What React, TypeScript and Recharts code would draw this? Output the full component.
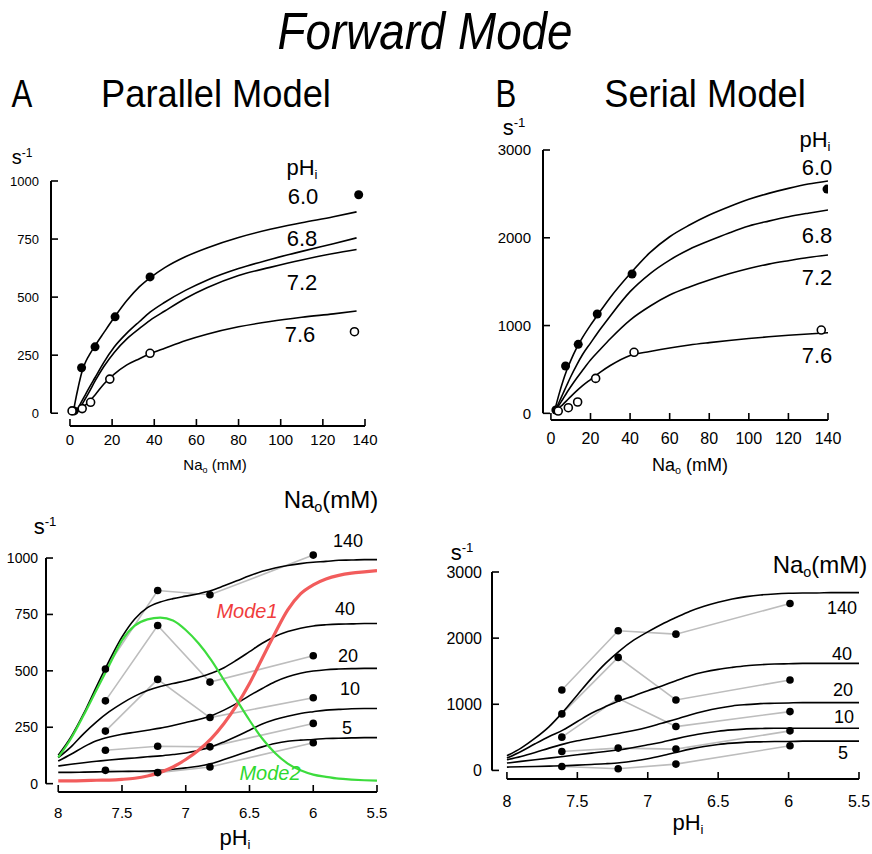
import { ComposedChart, Line, XAxis, YAxis, ReferenceLine } from 'recharts';

const FONT = '"Liberation Sans", Arial, Helvetica, sans-serif';

// ---- Panel A: parallel model, turnover vs Na_o ----
const NA_A = [1.5, 2.5, 4, 5.5, 7, 9, 12, 16, 21, 27, 33, 38, 45, 55, 65, 80, 95, 110, 125, 136];
const A_FIT_60 = [0, 50, 115, 172, 212, 248, 292, 346, 412, 485, 545, 583, 627, 675, 712, 757, 792, 820, 846, 867];
const A_FIT_68 = [0, 5, 25, 50, 75, 108, 155, 218, 285, 345, 395, 435, 478, 530, 573, 623, 662, 697, 730, 755];
const A_FIT_72 = [0, 3, 15, 35, 58, 90, 140, 200, 262, 320, 365, 400, 440, 495, 540, 593, 628, 660, 688, 705];
const A_FIT_76 = [0, 3, 10, 20, 32, 50, 80, 125, 168, 208, 235, 256, 280, 313, 340, 372, 395, 413, 428, 440];
const A_FILLED_X = [2, 5.5, 11.9, 21.4, 38, 137];
const A_FILLED_Y = [10, 196, 286, 415, 587, 941];
const A_OPEN_X = [1, 5.8, 9.8, 18.9, 38, 135];
const A_OPEN_Y = [10, 20, 47, 147, 258, 351];

// ---- Panel B: serial model, turnover vs Na_o ----
const NA_B = [2, 4, 6, 8, 10, 13, 16, 20, 25, 30, 40, 50, 60, 70, 80, 90, 100, 110, 120, 130, 140];
const B_FIT_60 = [40, 210, 360, 490, 600, 745, 865, 1005, 1165, 1320, 1590, 1830, 2012, 2145, 2259, 2354, 2438, 2506, 2563, 2612, 2647];
const B_FIT_68 = [20, 120, 220, 320, 417, 550, 670, 800, 960, 1110, 1386, 1590, 1746, 1870, 1966, 2055, 2134, 2190, 2240, 2280, 2316];
const B_FIT_72 = [15, 90, 160, 235, 303, 400, 490, 607, 730, 850, 1063, 1220, 1348, 1440, 1519, 1590, 1651, 1700, 1739, 1775, 1803];
const B_FIT_76 = [10, 60, 100, 145, 190, 255, 315, 385, 470, 545, 660, 705, 745, 778, 805, 830, 852, 872, 889, 904, 918];
const B_FILLED_X = [2.5, 7.4, 13.8, 23.4, 41, 139.5];
const B_FILLED_Y = [38, 539, 786, 1131, 1587, 2555];
const B_OPEN_X = [3.7, 8.8, 13.5, 22.6, 42, 136.6];
const B_OPEN_Y = [26, 64, 129, 398, 695, 949];

// ---- Panels C/D: turnover vs pH_i ----
const PH = [8.0, 7.9, 7.8, 7.7, 7.6, 7.5, 7.4, 7.3, 7.2, 7.1, 7.0, 6.9, 6.8, 6.7, 6.6, 6.5, 6.4, 6.3, 6.2, 6.1, 6.0, 5.9, 5.8, 5.7, 5.6, 5.5];

const C_FIT_140 = [126, 207, 311, 430, 545, 650, 730, 780, 805, 820, 831, 842, 856, 877, 899, 921, 941, 956, 967, 975, 981, 985, 990, 991, 993, 993];
const C_FIT_40 = [115, 163, 222, 274, 319, 356, 388, 413, 431, 444, 456, 471, 489, 514, 548, 585, 622, 652, 674, 689, 699, 704, 707, 708, 710, 710];
const C_FIT_20 = [100, 130, 163, 190, 207, 219, 228, 237, 246, 258, 271, 284, 301, 326, 356, 390, 422, 452, 474, 489, 499, 505, 508, 510, 511, 511];
const C_FIT_10 = [78, 86, 93, 99, 105, 110, 114, 119, 123, 129, 136, 148, 163, 185, 210, 237, 264, 284, 299, 311, 319, 326, 329, 332, 333, 333];
const C_FIT_5 = [50, 50, 51, 52, 53, 54, 55, 56, 59, 64, 70, 77, 89, 107, 126, 145, 163, 178, 188, 193, 196, 200, 201, 203, 204, 204];
const C_MODE1 = [12, 12, 13, 15, 16, 19, 24, 34, 50, 74, 107, 148, 200, 267, 348, 444, 556, 667, 770, 841, 881, 907, 923, 933, 939, 944];
const C_MODE2 = [116, 200, 304, 415, 525, 635, 700, 728, 736, 723, 681, 622, 548, 459, 370, 281, 200, 136, 89, 59, 40, 30, 22, 18, 15, 13];

const C_PH_MEAS = [7.63, 7.22, 6.81, 6.0];
const C_MEAS = [
  [508, 856, 837, 1013], // 140
  [367, 701, 450, 567], // 40
  [233, 462, 293, 381], // 20
  [148, 166, 163, 267], // 10
  [59, 49, 74, 181], // 5
];

const D_FIT_140 = [221, 337, 487, 663, 889, 1141, 1392, 1618, 1809, 1970, 2095, 2211, 2312, 2407, 2482, 2543, 2593, 2628, 2653, 2668, 2678, 2683, 2683, 2688, 2688, 2688];
const D_FIT_40 = [186, 286, 402, 513, 613, 739, 864, 965, 1055, 1126, 1206, 1276, 1357, 1432, 1487, 1528, 1558, 1583, 1598, 1608, 1613, 1618, 1618, 1618, 1618, 1618];
const D_FIT_20 = [161, 211, 271, 337, 397, 447, 487, 523, 563, 603, 653, 714, 774, 839, 894, 940, 975, 995, 1010, 1015, 1020, 1025, 1025, 1025, 1025, 1025];
const D_FIT_10 = [111, 136, 161, 186, 211, 236, 261, 286, 312, 347, 387, 427, 477, 523, 563, 593, 613, 628, 633, 638, 638, 638, 638, 638, 638, 638];
const D_FIT_5 = [50, 55, 60, 65, 70, 80, 90, 101, 116, 141, 176, 221, 271, 322, 362, 392, 412, 427, 432, 437, 437, 442, 442, 442, 442, 442];

const D_PH_MEAS = [7.61, 7.21, 6.8, 5.99];
const D_MEAS = [
  [1216, 2111, 2060, 2523],
  [854, 1709, 1065, 1367],
  [503, 1090, 663, 889],
  [286, 337, 322, 598],
  [60, 25, 95, 372],
];

const NA_TICKS = [0, 20, 40, 60, 80, 100, 120, 140];
const PH_TICKS = [8, 7.5, 7, 6.5, 6, 5.5];

const pts = (xs: number[], ys: number[]) => xs.map((x, i) => ({ x, y: ys[i] }));

const curve = (key: string, xs: number[], ys: number[], color = '#000', w = 1.6) => (
  <Line key={key} data={pts(xs, ys)} dataKey="y" type="monotone" stroke={color} strokeWidth={w}
    dot={false} activeDot={false} isAnimationActive={false} />
);

const grayLine = (key: string, xs: number[], ys: number[]) => (
  <Line key={key} data={pts(xs, ys)} dataKey="y" type="linear" stroke="#bdbdbd" strokeWidth={1.6}
    dot={false} activeDot={false} isAnimationActive={false} />
);

const marks = (key: string, xs: number[], ys: number[], open: boolean, r = 4.5) => (
  <Line key={key} data={pts(xs, ys)} dataKey="y" stroke="none"
    dot={{ r, fill: open ? '#fff' : '#000', stroke: '#000', strokeWidth: open ? 1.6 : 0 }}
    activeDot={false} isAnimationActive={false} />
);

const xTick = (fs: number, dy: number) => (props: any) => {
  const { x, y, payload } = props;
  return (
    <g>
      <line x1={x} y1={y} x2={x} y2={y - 7} stroke="#000" strokeWidth={1.6} />
      <text x={x} y={y + dy} textAnchor="middle" fontSize={fs} fontFamily={FONT} fill="#000">{payload.value}</text>
    </g>
  );
};

const yTick = (fs: number, dx: number) => (props: any) => {
  const { x, y, payload } = props;
  return (
    <g>
      <line x1={x} y1={y} x2={x + 7} y2={y} stroke="#000" strokeWidth={1.6} />
      <text x={x - dx} y={y} dy="0.36em" textAnchor="end" fontSize={fs} fontFamily={FONT} fill="#000">{payload.value}</text>
    </g>
  );
};

function Panel(p: any) {
  const xT = p.xTicks, yT = p.yTicks;
  const yAxisAt = p.reversed ? p.xDomain[1] : p.xDomain[0];
  return (
    <div style={{ position: 'absolute', left: p.left, top: p.top }}>
      <ComposedChart width={p.width} height={p.height} margin={p.margin}>
        <XAxis type="number" dataKey="x" domain={p.xDomain} ticks={xT} allowDataOverflow reversed={p.reversed}
          axisLine={false} tickSize={0} tickMargin={0} height={30} interval={0} tick={xTick(p.xFont, p.xDy)} />
        <YAxis type="number" domain={p.yDomain} ticks={yT} allowDataOverflow axisLine={false}
          tickSize={0} tickMargin={0} width={p.yWidth} interval={0} tick={yTick(p.yFont, p.yDx)} />
        <ReferenceLine ifOverflow="visible" stroke="#000" strokeWidth={2}
          segment={[{ x: xT[0], y: p.yDomain[0] }, { x: xT[xT.length - 1], y: p.yDomain[0] }]} />
        <ReferenceLine ifOverflow="visible" stroke="#000" strokeWidth={2}
          segment={[{ x: yAxisAt, y: yT[0] }, { x: yAxisAt, y: yT[yT.length - 1] }]} />
        {p.children}
      </ComposedChart>
    </div>
  );
}

function T({ x, y, size, children, anchor = 'middle', italic = false, color = '#000', sx = 1 }: any) {
  const tx = anchor === 'middle' ? '-50%' : anchor === 'end' ? '-100%' : '0';
  return (
    <div style={{
      position: 'absolute', left: x, top: y, transform: `translate(${tx}, -50%) scaleX(${sx})`,
      fontSize: size, lineHeight: 1, whiteSpace: 'nowrap', fontStyle: italic ? 'italic' : 'normal', color,
    }}>{children}</div>
  );
}

const Sub = ({ c }: any) => <span style={{ fontSize: '0.6em', position: 'relative', top: '0.3em' }}>{c}</span>;
const Sup = ({ c }: any) => <span style={{ fontSize: '0.6em', position: 'relative', top: '-0.6em' }}>{c}</span>;

export default function App() {
  const naLabels = ['140', '40', '20', '10', '5'];
  return (
    <div style={{ position: 'absolute', left: 0, top: 0, width: 872, height: 854, background: '#fff', fontFamily: FONT, overflow: 'hidden' }}>
      <Panel left={0} top={0} width={440} height={480} margin={{ top: 181, right: 75, bottom: 24, left: 0 }}
        yWidth={51} xDomain={[-9, 140]} yDomain={[-55, 1000]} xTicks={NA_TICKS} yTicks={[0, 250, 500, 750, 1000]}
        xFont={15} xDy={19} yFont={13} yDx={12}>
        {[
          curve('a60', NA_A, A_FIT_60),
          curve('a68', NA_A, A_FIT_68),
          curve('a72', NA_A, A_FIT_72),
          curve('a76', NA_A, A_FIT_76),
          marks('af', A_FILLED_X, A_FILLED_Y, false),
          marks('ao', A_OPEN_X, A_OPEN_Y, true, 4),
        ]}
      </Panel>

      <Panel left={440} top={0} width={432} height={480} margin={{ top: 150, right: 44, bottom: 30, left: 0 }}
        yWidth={103} xDomain={[-4, 140]} yDomain={[-76, 3000]} xTicks={NA_TICKS} yTicks={[0, 1000, 2000, 3000]}
        xFont={16} xDy={24} yFont={15} yDx={12}>
        {[
          curve('b60', NA_B, B_FIT_60),
          curve('b68', NA_B, B_FIT_68),
          curve('b72', NA_B, B_FIT_72),
          curve('b76', NA_B, B_FIT_76),
          marks('bf', B_FILLED_X, B_FILLED_Y, false),
          marks('bo', B_OPEN_X, B_OPEN_Y, true, 4),
        ]}
      </Panel>

      <Panel left={0} top={470} width={440} height={384} margin={{ top: 79, right: 63, bottom: 32, left: 0 }}
        yWidth={46} xDomain={[5.5, 8.096]} reversed yDomain={[-37, 1040]} xTicks={PH_TICKS} yTicks={[0, 250, 500, 750, 1000]}
        xFont={15} xDy={26} yFont={14} yDx={8}>
        {[
          ...C_MEAS.map((m, i) => grayLine(`cg${i}`, C_PH_MEAS, m)),
          curve('c5', PH, C_FIT_5),
          curve('c10', PH, C_FIT_10),
          curve('c20', PH, C_FIT_20),
          curve('c40', PH, C_FIT_40),
          curve('c140', PH, C_FIT_140),
          curve('cm1', PH, C_MODE1, '#f25c5c', 3.2),
          curve('cm2', PH, C_MODE2, '#3ddc3d', 2.2),
          ...C_MEAS.map((m, i) => marks(`cd${i}`, C_PH_MEAS, m, false, 3.8)),
        ]}
      </Panel>

      <Panel left={440} top={470} width={432} height={384} margin={{ top: 102, right: 13, bottom: 45, left: 0 }}
        yWidth={52} xDomain={[5.5, 8.106]} reversed yDomain={[-130, 3000]} xTicks={PH_TICKS} yTicks={[0, 1000, 2000, 3000]}
        xFont={16} xDy={28} yFont={16} yDx={10}>
        {[
          ...D_MEAS.map((m, i) => grayLine(`dg${i}`, D_PH_MEAS, m)),
          curve('d5', PH, D_FIT_5),
          curve('d10', PH, D_FIT_10),
          curve('d20', PH, D_FIT_20),
          curve('d40', PH, D_FIT_40),
          curve('d140', PH, D_FIT_140),
          ...D_MEAS.map((m, i) => marks(`dd${i}`, D_PH_MEAS, m, false, 3.8)),
        ]}
      </Panel>

      {/* headings */}
      <T x={425} y={31} size={52} italic sx={0.88}>Forward Mode</T>
      <T x={22} y={93} size={39} sx={0.8}>A</T>
      <T x={216} y={93} size={39} sx={0.93}>Parallel Model</T>
      <T x={506} y={93} size={39} sx={0.8}>B</T>
      <T x={705} y={93} size={39} sx={0.93}>Serial Model</T>

      {/* panel A labels */}
      <T x={22} y={157} size={20}>s<Sup c="-1" /></T>
      <T x={302} y={168} size={22}>pH<Sub c="i" /></T>
      <T x={303} y={197} size={22}>6.0</T>
      <T x={302} y={239} size={22}>6.8</T>
      <T x={302} y={283} size={22}>7.2</T>
      <T x={300} y={335} size={22}>7.6</T>
      <T x={215} y={464} size={15}>Na<Sub c="o" /> (mM)</T>

      {/* panel B labels */}
      <T x={514} y={128} size={22}>s<Sup c="-1" /></T>
      <T x={815} y={140} size={22}>pH<Sub c="i" /></T>
      <T x={817} y={168} size={22}>6.0</T>
      <T x={817} y={236} size={22}>6.8</T>
      <T x={817} y={278} size={22}>7.2</T>
      <T x={817} y={356} size={22}>7.6</T>
      <T x={690} y={465} size={18}>Na<Sub c="o" /> (mM)</T>

      {/* panel C labels */}
      <T x={331} y={500} size={24}>Na<Sub c="o" />(mM)</T>
      <T x={45} y={527} size={22}>s<Sup c="-1" /></T>
      {naLabels.map((s, i) => (
        <T key={s} x={[348, 345, 348, 350, 347][i]} y={[541, 609, 656, 689, 728][i]} size={18}>{s}</T>
      ))}
      <T x={247} y={611} size={20} italic color="#f03c3c">Mode1</T>
      <T x={270} y={773} size={20} italic color="#2fd82f">Mode2</T>
      <T x={235} y={838} size={22}>pH<Sub c="i" /></T>

      {/* panel D labels */}
      <T x={462} y={553} size={22}>s<Sup c="-1" /></T>
      <T x={820} y={565} size={24}>Na<Sub c="o" />(mM)</T>
      {naLabels.map((s, i) => (
        <T key={`d${s}`} x={[842, 842, 843, 844, 843][i]} y={[608, 654, 690, 717, 753][i]} size={18}>{s}</T>
      ))}
      <T x={688} y={823} size={22}>pH<Sub c="i" /></T>
    </div>
  );
}
